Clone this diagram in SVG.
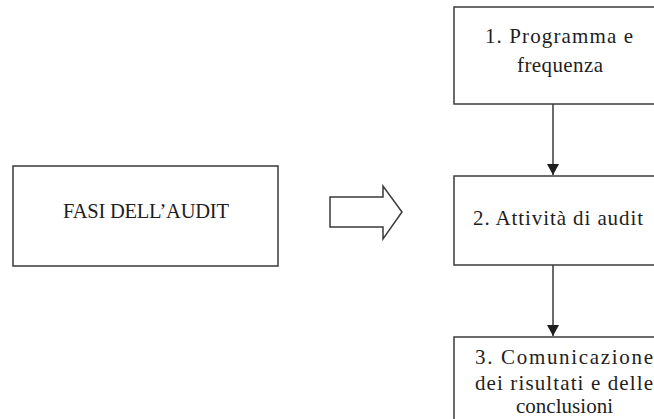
<svg xmlns="http://www.w3.org/2000/svg" width="654" height="419" viewBox="0 0 654 419">
<style>
.box{fill:#fff;stroke:#3a3a3a;stroke-width:1.5}
.t{font-family:"Liberation Serif","Times New Roman",serif;font-size:21px;fill:#1e1e1e}
.big{font-size:20.5px}
.conn{stroke:#3a3a3a;stroke-width:1.5;fill:none}
</style>
<defs>
<marker id="ah" markerWidth="11" markerHeight="12" refX="11" refY="6" orient="auto" markerUnits="userSpaceOnUse">
<path d="M0,0 L11,6 L0,12 z" fill="#1e1e1e"/>
</marker>
</defs>
<rect width="654" height="419" fill="#fff"/>
<g id="fasi">
<rect class="box" x="13" y="166" width="265" height="100"/>
<text class="t big" x="63" y="218" textLength="166" lengthAdjust="spacing">FASI DELL’AUDIT</text>
</g>
<g id="big-arrow">
<path class="conn" d="M330,197 L383,197 L383,186 L402,212 L383,239 L383,227 L330,227 Z" stroke-width="1.2"/>
</g>
<g id="n1">
<rect class="box" x="454" y="7" width="210" height="97"/>
<text class="t" x="485" y="43" textLength="148" lengthAdjust="spacing">1. Programma e</text>
<text class="t" x="517" y="72" textLength="86" lengthAdjust="spacing">frequenza</text>
</g>
<g id="n2">
<rect class="box" x="454" y="176" width="210" height="89"/>
<text class="t" x="473" y="225" textLength="170" lengthAdjust="spacing">2. Attività di audit</text>
</g>
<g id="n3">
<rect class="box" x="454" y="337" width="210" height="100"/>
<text class="t" x="475" y="364" textLength="178" lengthAdjust="spacing">3. Comunicazione</text>
<text class="t" x="475" y="390" textLength="178" lengthAdjust="spacing">dei risultati e delle</text>
<text class="t" x="516" y="413" textLength="97" lengthAdjust="spacing">conclusioni</text>
</g>
<g id="connectors">
<line class="conn" x1="553" y1="104" x2="553" y2="175" marker-end="url(#ah)"/>
<line class="conn" x1="553" y1="265" x2="553" y2="336" marker-end="url(#ah)"/>
</g>
</svg>
